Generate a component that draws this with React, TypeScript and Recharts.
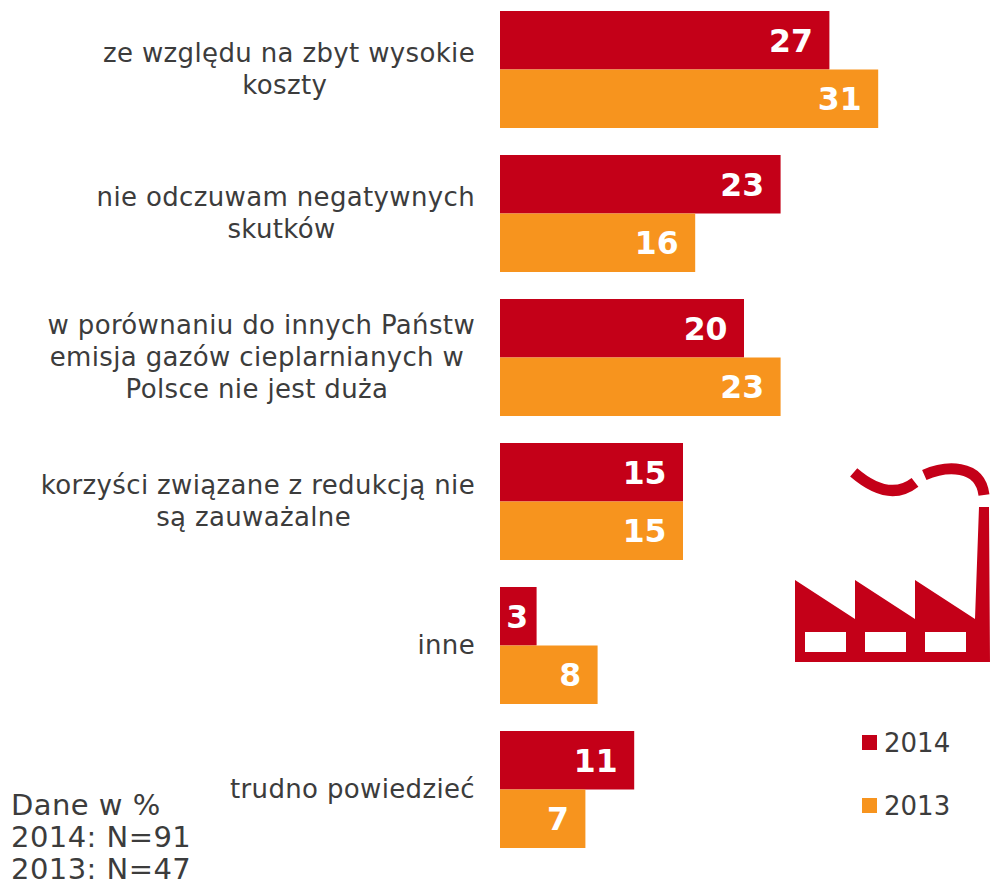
import { BarChart, Bar, XAxis, YAxis, LabelList, Legend } from 'recharts'

const categories = [
  ['ze względu na zbyt wysokie', 'koszty '],
  ['nie odczuwam negatywnych', 'skutków '],
  ['w porównaniu do innych Państw', 'emisja gazów cieplarnianych w ', 'Polsce nie jest duża '],
  ['korzyści związane z redukcją nie', 'są zauważalne '],
  ['inne'],
  ['trudno powiedzieć'],
]
const values2014 = [27, 23, 20, 15, 3, 11]
const values2013 = [31, 16, 23, 15, 8, 7]
const notes = ['Dane w %', '2014: N=91', '2013: N=47']

const RED = '#c40018'
const ORANGE = '#f7941e'
const TEXT = '#3c3c3c'
const FONT = '"DejaVu Sans", Verdana, sans-serif'
const SPACING = 0.35

const data = categories.map((lines, i) => ({
  name: lines.join(' '),
  y2014: values2014[i],
  y2013: values2013[i],
}))

const ctx = document.createElement('canvas').getContext('2d')!
ctx.font = `26px ${FONT}`

function lineWidth(l: string) {
  return ctx.measureText(l).width + l.length * SPACING
}

function CategoryTick({ x, y, payload, index }: any) {
  const lines = categories[index] ?? [payload.value]
  const lineH = 31.7
  const widest = Math.max(...lines.map(lineWidth))
  const cx = x + 1 - widest / 2
  const first = y - ((lines.length - 1) * lineH) / 2 + 9
  return (
    <text
      textAnchor="middle"
      fontSize={26}
      fontFamily={FONT}
      fill={TEXT}
      letterSpacing={SPACING}
      style={{ whiteSpace: 'pre' }}
    >
      {lines.map((l, i) => (
        <tspan key={i} x={cx} y={first + i * lineH}>{l}</tspan>
      ))}
    </text>
  )
}

function ValueLabel({ x, y, width, height, value }: any) {
  const small = width < 50
  return (
    <text
      x={small ? x + width / 2 - 1 : x + width - 16.5}
      y={y + height / 2 + 11.5}
      textAnchor={small ? 'middle' : 'end'}
      fontSize={31.5}
      fontWeight="bold"
      fontFamily={FONT}
      fill="#fff"
    >
      {value}
    </text>
  )
}

function YearLegend({ payload }: any) {
  return (
    <div>
      {(payload ?? []).map((p: any) => (
        <div key={p.value} style={{ height: 63, display: 'flex', alignItems: 'center', fontFamily: FONT, fontSize: 26, color: TEXT }}>
          <span style={{ width: 15, height: 15, background: p.color, marginRight: 7 }} />
          {p.value}
        </div>
      ))}
    </div>
  )
}

function Factory() {
  return (
    <svg width={990} height={886} style={{ position: 'absolute', left: 0, top: 0, pointerEvents: 'none' }}>
      <path
        fill={RED}
        fillRule="evenodd"
        d="M795 580 L855 619 L855 580 L915 619 L915 580 L975 619 L979 507 L989 507 L990 662 L795 662 Z
           M805 632 H846 V652 H805 Z M865 632 H906 V652 H865 Z M925 632 H966 V652 H925 Z"
      />
      <path d="M853.7 472.3 Q889 502.7 915 482.3" fill="none" stroke={RED} strokeWidth={11} />
      <path d="M924.3 475 C945 466 980 463 984 495" fill="none" stroke={RED} strokeWidth={11} />
    </svg>
  )
}

export default function App() {
  return (
    <div style={{ position: 'absolute', left: 0, top: 0, width: 990, height: 886, background: '#fff', overflow: 'hidden' }}>
      <BarChart
        width={990}
        height={886}
        data={data}
        layout="vertical"
        barSize={58.5}
        barGap={0}
        margin={{ top: -3, right: 2, bottom: 25, left: 0 }}
      >
        <XAxis type="number" domain={[0, 40]} hide />
        <YAxis
          type="category"
          dataKey="name"
          width={500}
          interval={0}
          axisLine={false}
          tickLine={false}
          tickMargin={0}
          tickSize={26}
          tick={<CategoryTick />}
        />
        <Bar dataKey="y2014" name="2014" fill={RED} isAnimationActive={false}>
          <LabelList dataKey="y2014" content={<ValueLabel />} />
        </Bar>
        <Bar dataKey="y2013" name="2013" fill={ORANGE} isAnimationActive={false}>
          <LabelList dataKey="y2013" content={<ValueLabel />} />
        </Bar>
        <Legend
          content={<YearLegend />}
          layout="vertical"
          align="center"
          verticalAlign="middle"
          itemSorter={null}
          wrapperStyle={{ position: 'absolute', left: 862, top: 711, width: 110, bottom: 'auto' }}
        />
      </BarChart>
      <Factory />
      <div style={{ position: 'absolute', left: 11, top: 789, fontFamily: FONT, fontSize: 29, lineHeight: '32px', letterSpacing: 0.45, color: TEXT }}>
        {notes.map((n) => (
          <div key={n}>{n}</div>
        ))}
      </div>
    </div>
  )
}
